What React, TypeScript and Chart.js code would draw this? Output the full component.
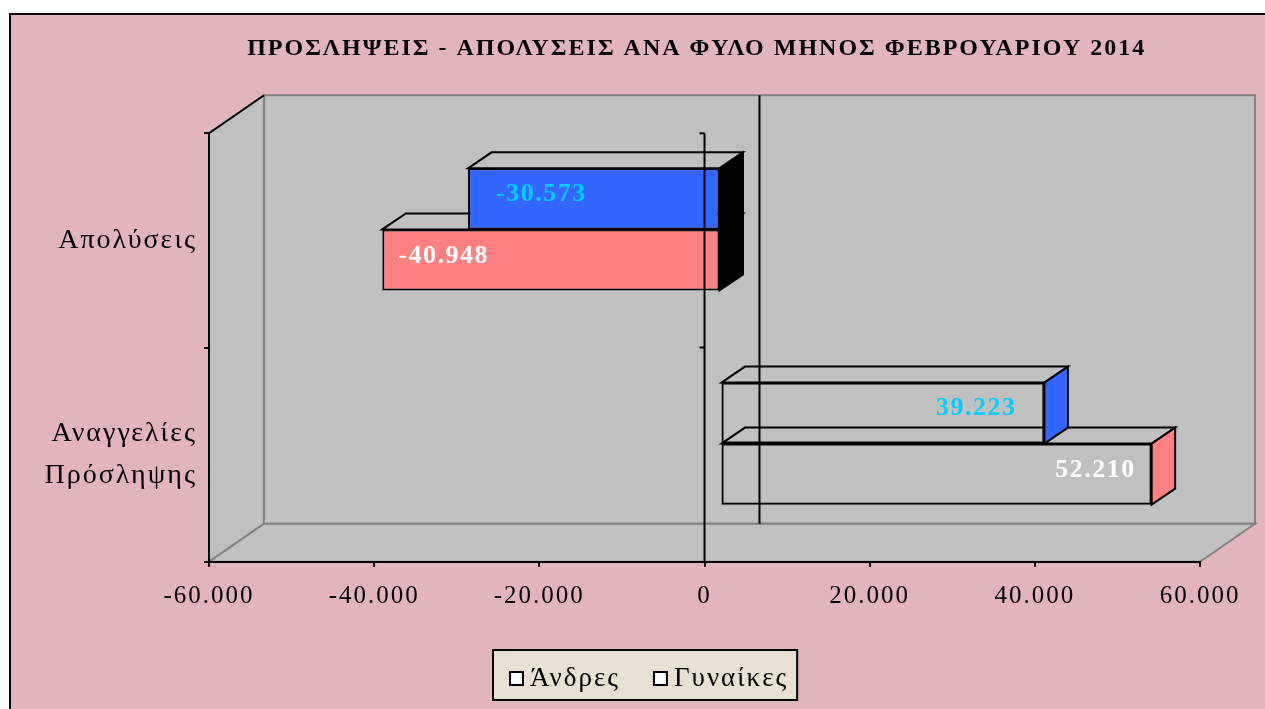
import { useEffect, useRef } from 'react';
import { Chart, registerables } from 'chart.js';

Chart.register(...registerables);

// ---------- data ----------
const titleText = 'ΠΡΟΣΛΗΨΕΙΣ - ΑΠΟΛΥΣΕΙΣ ΑΝΑ ΦΥΛΟ ΜΗΝΟΣ ΦΕΒΡΟΥΑΡΙΟΥ 2014';
const categories = [['Απολύσεις'], ['Αναγγελίες', 'Πρόσληψης']];
const womenLabel = 'Γυναίκες';
const menLabel = 'Άνδρες';
const womenValues = [-30573, 39223];
const menValues = [-40948, 52210];
const legendOrder = [menLabel, womenLabel];
const xMin = -60000;
const xMax = 60000;
const xStep = 20000;

// ---------- styles ----------
const PINK = '#E2B5BD';
const GREY = '#C0C0C0';
const EDGE = '#808080';
const BLUE = '#3366FF';
const SALMON = '#FF8080';
const CYAN = '#00CCFF';
const NONE = 'rgba(0,0,0,0)';
const SERIF = '"Liberation Serif", "Times New Roman", serif';
const TITLE_CENTER = 696.7;

const WALL_D = { x: 55, y: -38 };
const BAR_OFF = { x: 16, y: -11 };
const BAR_D = { x: 23.5, y: -16 };

const fmt = (v: number) => {
  const s = Math.abs(Math.round(v)).toString().replace(/\B(?=(\d{3})+(?!\d))/g, '.');
  return (v < 0 ? '-' : '') + s;
};

function poly(ctx: CanvasRenderingContext2D, pts: number[][], fill: string | null, stroke: string | null, lw = 2) {
  ctx.beginPath();
  ctx.moveTo(pts[0][0], pts[0][1]);
  for (let i = 1; i < pts.length; i++) ctx.lineTo(pts[i][0], pts[i][1]);
  ctx.closePath();
  if (fill) {
    ctx.fillStyle = fill;
    ctx.fill();
  }
  if (stroke) {
    ctx.strokeStyle = stroke;
    ctx.lineWidth = lw;
    ctx.lineJoin = 'miter';
    ctx.stroke();
  }
}

function line(ctx: CanvasRenderingContext2D, x1: number, y1: number, x2: number, y2: number, color: string, lw = 2) {
  ctx.beginPath();
  ctx.moveTo(x1, y1);
  ctx.lineTo(x2, y2);
  ctx.strokeStyle = color;
  ctx.lineWidth = lw;
  ctx.stroke();
}

const excel3d = {
  id: 'excel3d',
  afterLayout(chart: any) {
    const tb = chart.titleBlock;
    if (tb) {
      const right = tb.right;
      tb.left = 2 * TITLE_CENTER - right;
      tb.width = tb.right - tb.left;
    }
  },
  beforeDraw(chart: any) {
    const { ctx, chartArea: a, scales } = chart;
    const W = chart.width;
    const H = chart.height;
    ctx.save();
    ctx.letterSpacing = '0px';
    ctx.fillStyle = '#ffffff';
    ctx.fillRect(0, 0, W, H);
    ctx.fillStyle = PINK;
    ctx.fillRect(10, 14, W, H);
    ctx.strokeStyle = '#000';
    ctx.lineWidth = 2;
    ctx.strokeRect(10, 14, W + 20, H + 20);

    const L = a.left, R = a.right, T = a.top, B = a.bottom;
    const dx = WALL_D.x, dy = WALL_D.y;
    poly(ctx, [[L, T], [L + dx, T + dy], [L + dx, B + dy], [L, B]], GREY, EDGE, 2);
    poly(ctx, [[L + dx, T + dy], [R + dx, T + dy], [R + dx, B + dy], [L + dx, B + dy]], GREY, EDGE, 2);
    poly(ctx, [[L, B], [R, B], [R + dx, B + dy], [L + dx, B + dy]], GREY, EDGE, 2);
    line(ctx, L, T, L + dx, T + dy, '#000', 2);
    const x0 = scales.x.getPixelForValue(0) + dx;
    line(ctx, x0, T + dy, x0, B + dy, '#000', 2);
    ctx.restore();
    ctx.letterSpacing = '2px';
  },
  beforeDatasetsDraw(chart: any) {
    chart.ctx.letterSpacing = '0px';
  },
  beforeDatasetDraw(chart: any, args: any) {
    const ctx = chart.ctx;
    ctx.save();
    ctx.translate(BAR_OFF.x, BAR_OFF.y);
    const ds = chart.data.datasets[args.index];
    args.meta.data.forEach((el: any, i: number) => {
      const { x, y, base, height } = el.getProps(['x', 'y', 'base', 'height'], true);
      const l = Math.min(x, base), r = Math.max(x, base);
      const t = y - height / 2, b = y + height / 2;
      poly(ctx, [[l, t], [l + BAR_D.x, t + BAR_D.y], [r + BAR_D.x, t + BAR_D.y], [r, t]], null, '#000', 2);
      poly(ctx, [[r, t], [r + BAR_D.x, t + BAR_D.y], [r + BAR_D.x, b + BAR_D.y], [r, b]], ds.sideColors[i], '#000', 2);
    });
  },
  afterDatasetDraw(chart: any) {
    chart.ctx.restore();
  },
  afterDatasetsDraw(chart: any) {
    const { ctx, chartArea: a, scales } = chart;
    ctx.save();
    // front zero line (category axis crossing)
    const x0 = scales.x.getPixelForValue(0);
    line(ctx, x0, a.top, x0, a.bottom, '#000', 2);
    const ys = scales.y;
    const step = ys.getPixelForTick(1) - ys.getPixelForTick(0);
    for (let i = 0; i < ys.ticks.length; i++) {
      const yy = ys.getPixelForTick(i) - step / 2;
      line(ctx, x0 - 5, yy, x0, yy, '#000', 2);
    }
    // data labels
    ctx.font = `bold 26px ${SERIF}`;
    ctx.letterSpacing = '1.5px';
    ctx.textBaseline = 'alphabetic';
    chart.data.datasets.forEach((ds: any, di: number) => {
      const meta = chart.getDatasetMeta(di);
      meta.data.forEach((el: any, i: number) => {
        const v = ds.data[i];
        const { x, y, base } = el.getProps(['x', 'y', 'base'], true);
        const l = Math.min(x, base), r = Math.max(x, base);
        ctx.fillStyle = ds.labelColor;
        let tx: number;
        if (v < 0) {
          ctx.textAlign = 'left';
          tx = l + ds.labelInset;
        } else {
          ctx.textAlign = 'right';
          tx = r - ds.labelInset;
        }
        ctx.fillText(fmt(v), tx + BAR_OFF.x, y + BAR_OFF.y + ds.labelDy + 9);
      });
    });
    ctx.restore();
    ctx.letterSpacing = '0px';
  },
  afterDraw(chart: any) {
    const ctx = chart.ctx;
    ctx.save();
    ctx.letterSpacing = '2px';
    ctx.font = `27px ${SERIF}`;
    const left = 493, top = 650, h = 50;
    let cx = left + 17;
    const items: { sq: number; tx: number }[] = [];
    legendOrder.forEach((name) => {
      const sq = cx;
      const tx = sq + 20;
      const w = ctx.measureText(name).width;
      items.push({ sq, tx });
      cx = tx + w + 34;
    });
    const right = cx - 34 + 9;
    ctx.fillStyle = '#E6E1D3';
    ctx.fillRect(left, top, right - left, h);
    ctx.strokeStyle = '#000';
    ctx.lineWidth = 2;
    ctx.strokeRect(left, top, right - left, h);
    legendOrder.forEach((name, i) => {
      const { sq, tx } = items[i];
      ctx.fillStyle = '#fff';
      ctx.fillRect(sq, top + 22, 13, 13);
      ctx.strokeRect(sq, top + 22, 13, 13);
      ctx.fillStyle = '#000';
      ctx.textAlign = 'left';
      ctx.textBaseline = 'alphabetic';
      ctx.fillText(name, tx, top + 36);
    });
    ctx.restore();
    ctx.letterSpacing = '0px';
  },
};

export default function App() {
  const ref = useRef<HTMLCanvasElement>(null);
  useEffect(() => {
    const canvas = ref.current;
    if (!canvas) return;
    const chart = new Chart(canvas, {
      type: 'bar',
      data: {
        labels: categories as any,
        datasets: [
          {
            label: womenLabel,
            data: womenValues,
            backgroundColor: [BLUE, NONE],
            borderColor: '#000',
            borderWidth: 2,
            borderSkipped: false,
            clip: false,
            sideColors: ['#000000', BLUE],
            labelColor: CYAN,
            labelInset: 28,
            labelDy: -7,
          } as any,
          {
            label: menLabel,
            data: menValues,
            backgroundColor: [SALMON, NONE],
            borderColor: '#000',
            borderWidth: 2,
            borderSkipped: false,
            clip: false,
            sideColors: ['#000000', SALMON],
            labelColor: '#FFFFFF',
            labelInset: 16,
            labelDy: -6,
          } as any,
        ],
      },
      options: {
        indexAxis: 'y',
        animation: false,
        responsive: false,
        devicePixelRatio: 1,
        events: [],
        datasets: { bar: { barPercentage: 1, categoryPercentage: 0.57 } },
        layout: { padding: { left: 0, right: 65, top: 0, bottom: 87.3 } },
        plugins: {
          legend: { display: false },
          tooltip: { enabled: false },
          title: {
            display: true,
            text: titleText,
            color: '#000',
            font: { family: SERIF, size: 24, weight: 'bold', lineHeight: 1.2 },
            padding: { top: 34, bottom: 70.5 },
          },
        },
        scales: {
          x: {
            type: 'linear',
            min: xMin,
            max: xMax,
            ticks: {
              stepSize: xStep,
              color: '#000',
              font: { family: SERIF, size: 25, lineHeight: 1.2 },
              padding: 15,
              maxRotation: 0,
              callback: (v: any) => fmt(Number(v)),
            },
            grid: { drawOnChartArea: false, drawTicks: true, tickLength: 5, color: '#000', lineWidth: 2 },
            border: { display: true, color: '#000', width: 2 },
            afterFit: (s: any) => { s.height = 60; },
          },
          y: {
            type: 'category',
            ticks: {
              color: '#000',
              font: { family: SERIF, size: 28, lineHeight: 1.5 },
              padding: 7,
              autoSkip: false,
            },
            grid: { drawOnChartArea: false, drawTicks: true, tickLength: 5, color: '#000', lineWidth: 2, offset: true },
            border: { display: true, color: '#000', width: 2 },
            afterFit: (s: any) => { s.width = 209; },
          },
        },
      } as any,
      plugins: [excel3d as any],
    });
    return () => chart.destroy();
  }, []);
  return (
    <div style={{ position: 'fixed', left: 0, top: 0, width: 1265, height: 709 }}>
      <canvas ref={ref} width={1265} height={709} style={{ display: 'block' }} />
    </div>
  );
}
